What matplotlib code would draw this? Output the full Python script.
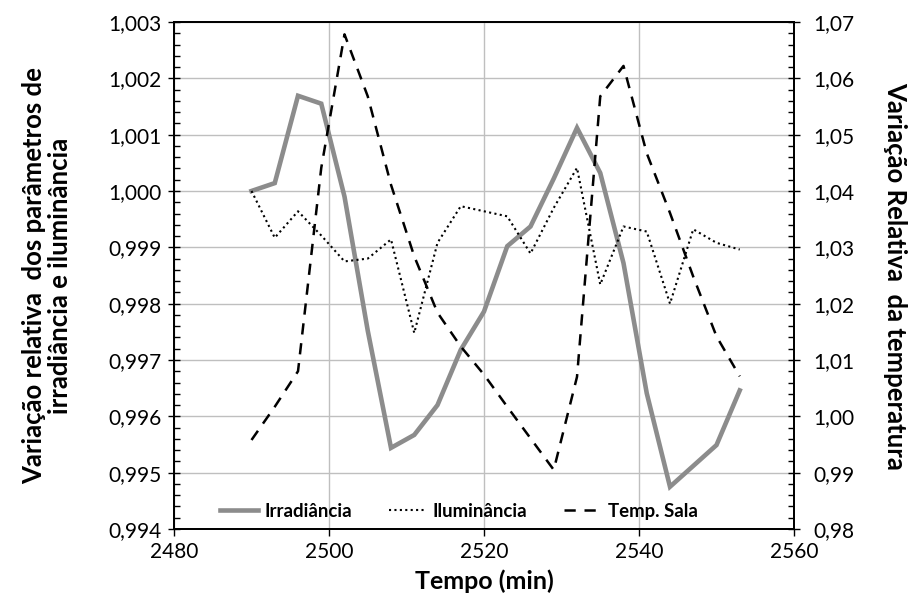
import matplotlib
matplotlib.use("Agg")
import matplotlib.pyplot as plt
from matplotlib.ticker import FuncFormatter, MultipleLocator, AutoMinorLocator

# time in minutes
tempo = [2490, 2493, 2496, 2499, 2502, 2505, 2508, 2511, 2514, 2517, 2520,
         2523, 2526, 2529, 2532, 2535, 2538, 2541, 2544, 2547, 2550, 2553]

irradiancia = [1.0000, 1.00014, 1.00169, 1.00155, 0.99990, 0.99752, 0.99544,
               0.99567, 0.99620, 0.99718, 0.99786, 0.99902, 0.99937, 1.00022,
               1.00112, 1.00032, 0.99872, 0.99641, 0.99475, 0.99512, 0.99549,
               0.99646]

iluminancia = [1.0000, 0.99917, 0.99964, 0.99921, 0.99875, 0.99880, 0.99914,
               0.99748, 0.99908, 0.99973, 0.99964, 0.99955, 0.99889, 0.99970,
               1.00041, 0.99834, 0.99937, 0.99928, 0.99800, 0.99932, 0.99908,
               0.99896]

temp_sala = [0.9958, 1.0017, 1.0080, 1.0441, 1.0678, 1.0568, 1.0411, 1.0284,
             1.0184, 1.0124, 1.0074, 1.0017, 0.9961, 0.9905, 1.0070, 1.0568,
             1.0622, 1.0467, 1.0361, 1.0248, 1.0142, 1.0071]

plt.rcParams["font.family"] = ["Lato", "DejaVu Sans"]

fig = plt.figure(figsize=(9.12, 6.07), dpi=100)
ax = fig.add_axes([0.1908, 0.1285, 0.6798, 0.8353])
ax2 = ax.twinx()

grid_color = "#bfbfbf"
l1, = ax.plot(tempo, irradiancia, color="#8c8c8c", lw=3.3, label="Irradiância",
              solid_joinstyle="miter", zorder=3)
l2, = ax.plot(tempo, iluminancia, color="black", lw=1.5, ls=(0, (1, 1.6)),
              label="Iluminância", zorder=3)
l3, = ax2.plot(tempo, temp_sala, color="black", lw=1.8, ls=(0, (4.5, 3.5)),
               label="Temp. Sala", zorder=3)

ax.set_xlim(2480, 2560)
ax.set_ylim(0.994, 1.003)
ax2.set_ylim(0.98, 1.07)

ax.xaxis.set_major_locator(MultipleLocator(20))
ax.yaxis.set_major_locator(MultipleLocator(0.001))
ax.yaxis.set_minor_locator(AutoMinorLocator(5))
ax2.yaxis.set_major_locator(MultipleLocator(0.01))
ax2.yaxis.set_minor_locator(AutoMinorLocator(5))

ax.yaxis.set_major_formatter(FuncFormatter(lambda v, p: f"{v:.3f}".replace(".", ",")))
ax2.yaxis.set_major_formatter(FuncFormatter(lambda v, p: f"{v:.2f}".replace(".", ",")))
ax.xaxis.set_major_formatter(FuncFormatter(lambda v, p: f"{v:.0f}"))

ax.grid(True, which="major", color=grid_color, lw=1.0, zorder=0)
ax.set_axisbelow(True)

ax.tick_params(axis="x", which="major", direction="out", length=5, width=1,
               labelsize=15, pad=4)
ax.tick_params(axis="y", which="major", direction="inout", length=8, width=1,
               labelsize=15, pad=5)
ax.tick_params(axis="y", which="minor", direction="in", length=4, width=1)
ax2.tick_params(axis="y", which="major", direction="inout", length=8, width=1,
                labelsize=15, pad=10)
ax2.tick_params(axis="y", which="minor", direction="in", length=4, width=1)

for a in (ax, ax2):
    for s in a.spines.values():
        s.set_linewidth(1.3)
        s.set_color("black")

ax.set_xlabel("Tempo (min)", fontsize=18, fontweight="bold", labelpad=6)
ax.set_ylabel("Variação relativa  dos parâmetros de\nirradiância e iluminância",
              fontsize=18.5, fontweight="bold", labelpad=26, linespacing=1.1)
ax2.set_ylabel("Variação Relativa  da temperatura", fontsize=18.5,
               fontweight="bold", rotation=270, labelpad=38)

leg = ax.legend(handles=[l1, l2, l3], loc="lower center", ncol=3, frameon=False,
                prop={"weight": "bold", "size": 13.4}, handlelength=2.0,
                columnspacing=2.0, handletextpad=0.35, bbox_to_anchor=(0.46, -0.015))

fig.savefig("out.png", dpi=100)
